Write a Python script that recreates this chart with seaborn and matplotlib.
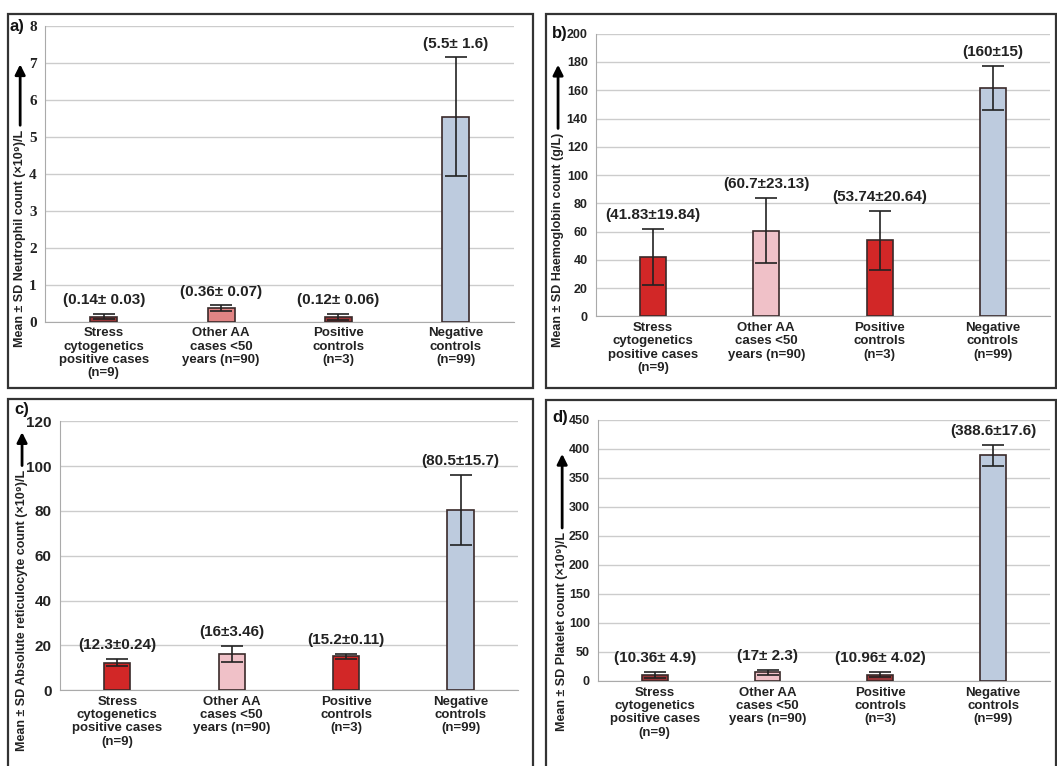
"""Four-panel bar chart of blood counts by patient group (mean ± SD)."""

import matplotlib.pyplot as plt
import pandas as pd
import seaborn as sns
from matplotlib.patches import Rectangle

groups = [
    "Stress\ncytogenetics\npositive cases\n(n=9)",
    "Other AA\ncases <50\nyears (n=90)",
    "Positive\ncontrols\n(n=3)",
    "Negative\ncontrols\n(n=99)",
]

# a) neutrophils
neut_mean = [0.14, 0.36, 0.12, 5.55]
neut_sd = [0.07, 0.08, 0.08, 1.6]
neut_text = ["(0.14\u00b1 0.03)", "(0.36\u00b1 0.07)", "(0.12\u00b1 0.06)", "(5.5\u00b1 1.6)"]

# b) haemoglobin
hb_mean = [41.83, 60.7, 53.74, 161.5]
hb_sd = [19.84, 23.13, 20.64, 15.5]
hb_text = ["(41.83\u00b119.84)", "(60.7\u00b123.13)", "(53.74\u00b120.64)", "(160\u00b115)"]

# c) reticulocytes
retic_mean = [12.3, 16.0, 15.2, 80.3]
retic_sd = [1.5, 3.6, 1.1, 15.7]
retic_text = ["(12.3\u00b10.24)", "(16\u00b13.46)", "(15.2\u00b10.11)", "(80.5\u00b115.7)"]

# d) platelets
plt_mean = [10.36, 15.0, 10.96, 388.6]
plt_sd = [4.9, 4.5, 4.02, 17.6]
plt_text = ["(10.36\u00b1 4.9)", "(17\u00b1 2.3)", "(10.96\u00b1 4.02)", "(388.6\u00b117.6)"]

DARK_RED = "#a8262a"
SALMON = "#f07575"
RED = "#ee0a0a"
PINK = "#f8b9c3"
BLUE = "#b7cae3"

FONT = ["Liberation Sans", "DejaVu Sans"]

panels = [
    dict(tag="a)", mean=neut_mean, sd=neut_sd, text=neut_text, ymax=8, step=1,
         colors=[DARK_RED, SALMON, DARK_RED, BLUE],
         ylabel="Mean \u00b1 SD Neutrophil count (\u00d710\u2079)/L",
         rect=[0.0426, 0.580, 0.444, 0.386], box=[8, 14, 525, 374],
         lab=(-0.053, 0.65, 0.88), tag_xy=(-0.045, 1.0), tsize=11,
         tickfont=["Liberation Serif", "DejaVu Serif"]),
    dict(tag="b)", mean=hb_mean, sd=hb_sd, text=hb_text, ymax=200, step=20,
         colors=[RED, PINK, RED, BLUE],
         ylabel="Mean \u00b1 SD Haemoglobin count (g/L)",
         rect=[0.564, 0.587, 0.429, 0.369], box=[546, 14, 510, 374],
         lab=(-0.084, 0.65, 0.90), tag_xy=(-0.062, 1.0), tsize=9,
         tickfont=FONT),
    dict(tag="c)", mean=retic_mean, sd=retic_sd, text=retic_text, ymax=120, step=20,
         colors=[RED, PINK, RED, BLUE],
         ylabel="Mean \u00b1 SD Absolute reticulocyte count (\u00d710\u2079)/L",
         rect=[0.0568, 0.099, 0.433, 0.351], box=[8, 399, 525, 380],
         lab=(-0.083, 0.82, 0.97), tag_xy=(-0.068, 1.045), tsize=11,
         tickfont=FONT),
    dict(tag="d)", mean=plt_mean, sd=plt_sd, text=plt_text, ymax=450, step=50,
         colors=[DARK_RED, PINK, DARK_RED, BLUE],
         ylabel="Mean \u00b1 SD Platelet count (\u00d710\u2079)/L",
         rect=[0.566, 0.111, 0.427, 0.341], box=[546, 400, 510, 380],
         lab=(-0.080, 0.57, 0.88), tag_xy=(-0.066, 1.01), tsize=9,
         tickfont=FONT),
]

sns.set_style("white")
plt.rcParams["font.family"] = FONT

W, H = 1057, 766
fig = plt.figure(figsize=(W / 100, H / 100), dpi=100)

ylabels = []
for p in panels:
    x0, y0, bw, bh = p["box"]
    fig.patches.append(Rectangle((x0 / W, 1 - (y0 + bh) / H), bw / W, bh / H,
                                 transform=fig.transFigure, fill=False,
                                 edgecolor="#333333", linewidth=1.6))

    ax = fig.add_axes(p["rect"])
    df = pd.DataFrame({"group": groups, "mean": p["mean"]})
    sns.barplot(data=df, x="group", y="mean", hue="group", palette=p["colors"],
                legend=False, width=0.23, edgecolor="#3a2a2a", linewidth=1.2,
                ax=ax, zorder=3)

    centers = [b.get_x() + b.get_width() / 2 for b in ax.patches]
    ax.errorbar(centers, p["mean"], yerr=p["sd"], fmt="none", ecolor="#222222",
                elinewidth=1.2, capsize=8, capthick=1.2, zorder=4)
    for xc, m, s, t in zip(centers, p["mean"], p["sd"], p["text"]):
        ax.annotate(t, (xc, m + s), xytext=(0, 5), textcoords="offset points",
                    ha="center", va="bottom", fontsize=11, fontweight="bold",
                    color="#222222")

    ax.set_xlim(-0.5, 3.5)
    ax.set_ylim(0, p["ymax"])
    ax.set_yticks(range(0, p["ymax"] + 1, p["step"]))
    ax.yaxis.grid(True, color="#cccccc", linewidth=1)
    ax.set_axisbelow(True)
    ax.set_xlabel("")
    ax.set_ylabel("")
    ax.set_xticks(range(4))
    ax.set_xticklabels(groups, fontsize=9.5, fontweight="bold", color="#222222",
                       linespacing=1.15)
    ax.set_xticks([-0.5, 0.5, 1.5, 2.5, 3.5], minor=True)
    ax.tick_params(axis="x", which="major", length=0, pad=4)
    ax.tick_params(axis="x", which="minor", length=4, color="#aaaaaa", direction="out")
    ax.tick_params(axis="y", length=4, color="#aaaaaa", direction="out", pad=2)
    for lbl in ax.get_yticklabels():
        lbl.set_fontweight("bold")
        lbl.set_family(p["tickfont"])
        lbl.set_fontsize(p["tsize"])
        lbl.set_color("#222222")
    for side in ["top", "right"]:
        ax.spines[side].set_visible(False)
    for side in ["left", "bottom"]:
        ax.spines[side].set_color("#aaaaaa")

    lx, ltop, ltip = p["lab"]
    t = ax.text(lx, ltop, p["ylabel"], rotation=90, transform=ax.transAxes,
                ha="center", va="top", fontsize=9, fontweight="bold",
                color="#222222")
    ylabels.append((ax, t, lx, ltop, ltip))

    ax.text(p["tag_xy"][0], p["tag_xy"][1], p["tag"],
            transform=ax.transAxes, ha="right", va="center",
            fontsize=12, fontweight="bold", color="#111111")

for ax, t, lx, ltop, ltip in ylabels:
    ax.annotate("", xy=(lx, ltip), xytext=(lx, ltop + 0.005),
                xycoords="axes fraction", textcoords="axes fraction",
                arrowprops=dict(arrowstyle="-|>,head_length=0.6,head_width=0.3",
                                color="black", linewidth=2))

fig.savefig("out.png", dpi=100)
